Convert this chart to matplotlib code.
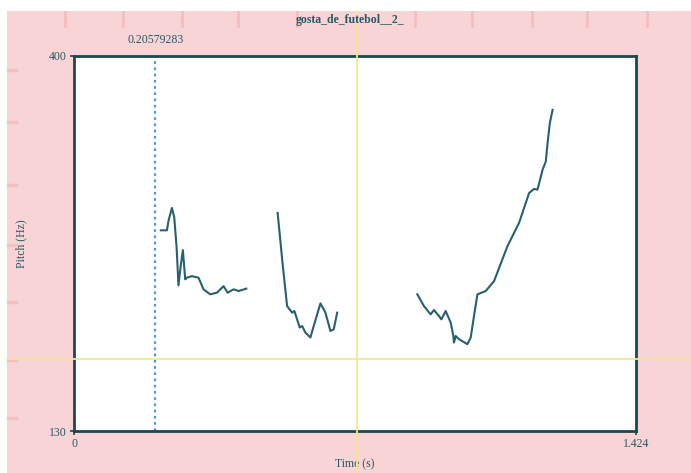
import matplotlib
matplotlib.use("Agg")
import matplotlib.pyplot as plt
import matplotlib.transforms as mtransforms
from matplotlib.patches import Rectangle
from matplotlib.lines import Line2D

# Pitch contour (three voiced stretches), time in s, pitch in Hz
seg1_t = [0.2201, 0.2353, 0.2400, 0.2480, 0.2540, 0.2600, 0.2647, 0.2700, 0.2759, 0.2818,
          0.2861, 0.2988, 0.3155, 0.3282, 0.3452, 0.3622, 0.3790, 0.3891, 0.4044, 0.4171, 0.4366]
seg1_f = [274.5, 274.5, 282.0, 290.6, 284.0, 262.0, 234.8, 248.0, 260.2, 239.2,
          240.4, 241.5, 240.4, 232.0, 228.4, 229.6, 234.3, 229.6, 232.0, 230.8, 232.5]

seg2_t = [0.5160, 0.5280, 0.5399, 0.5526, 0.5584, 0.5653, 0.5719, 0.5780, 0.5863, 0.5990,
          0.6074, 0.6244, 0.6371, 0.6498, 0.6582, 0.6668]
seg2_f = [287.0, 252.0, 220.0, 215.2, 216.4, 210.4, 204.5, 205.6, 200.9, 197.3,
          205.6, 221.9, 215.2, 202.0, 203.2, 215.2]

seg3_t = [0.8699, 0.8866, 0.9036, 0.9120, 0.9247, 0.9308, 0.9417, 0.9544, 0.9613, 0.9628,
          0.9671, 0.9755, 0.9968, 1.0052, 1.0135, 1.0222, 1.0433, 1.0643, 1.0983, 1.1278,
          1.1532, 1.1658, 1.1745, 1.1872, 1.1955, 1.1999, 1.2057, 1.2126]
seg3_f = [228.4, 220.0, 214.0, 217.1, 212.8, 210.4, 216.4, 208.1, 198.4, 193.7,
          198.4, 196.1, 192.5, 197.3, 212.8, 228.4, 230.8, 237.9, 263.1, 279.9,
          301.4, 304.3, 303.8, 318.1, 324.1, 337.3, 351.7, 361.2]

t_min, t_max = 0.0, 1.424
f_min, f_max = 130, 400
cursor_t = 0.20579283          # selection cursor (dotted)
cross_t, cross_f = 0.718, 181.7  # crosshair position
title = "gosta_de_futebol__2_"

W, H = 691, 473
fig = plt.figure(figsize=(W / 100, H / 100), dpi=100)
fig.patch.set_facecolor("white")

pink = "#f9d4d6"
ink = "#245866"
frame = "#1c4650"
serif = ["Liberation Serif", "DejaVu Serif"]

# pink canvas behind the plot
fig.patches.append(Rectangle((7 / W, 0), 1 - 7 / W, 1 - 11 / H, transform=fig.transFigure,
                             facecolor=pink, edgecolor="none", zorder=-10))

# faint red marks along the top and left margins
for x in [65, 123, 182, 238, 297, 415, 472, 532, 587, 647]:
    fig.add_artist(Line2D([x / W, x / W], [1 - 12 / H, 1 - 26 / H], transform=fig.transFigure,
                          color="#ee8a8f", lw=2.0, alpha=0.3, zorder=-5))
for y in [70, 122, 185, 245, 302, 360, 418]:
    fig.add_artist(Line2D([8 / W, 16 / W], [1 - y / H, 1 - y / H], transform=fig.transFigure,
                          color="#ee8a8f", lw=2.5, alpha=0.28, zorder=-5))

ax = fig.add_axes([74 / W, 1 - 431 / H, 562 / W, 375 / H])
ax.set_facecolor("white")
ax.set_xlim(t_min, t_max)
ax.set_ylim(f_min, f_max)

for s in ax.spines.values():
    s.set_color(frame)
    s.set_linewidth(2.0)
    s.set_zorder(5)

ax.set_xticks([t_min, t_max])
ax.set_xticklabels(["0", "1.424"])
ax.set_yticks([f_min, f_max])
ax.set_yticklabels(["130", "400"])
ax.tick_params(direction="out", length=3, width=1.2, color=frame, labelcolor=ink,
               labelsize=8.5, pad=2)
for lab in ax.get_xticklabels() + ax.get_yticklabels():
    lab.set_family(serif)

ax.set_xlabel("Time (s)", family=serif, fontsize=8.5, color=ink, labelpad=6)
ax.set_ylabel("Pitch (Hz)", family=serif, fontsize=8.5, color=ink, labelpad=16)

# crosshair lines run across the whole canvas
yel = "#f3e98a"
vl = Line2D([cross_t, cross_t], [0, 1 - 12 / H], color=yel, lw=1.3, zorder=2,
            transform=mtransforms.blended_transform_factory(ax.transData, fig.transFigure))
fig.add_artist(vl)
hl = Line2D([7 / W, 1], [cross_f, cross_f], color=yel, lw=1.3, zorder=2,
            transform=mtransforms.blended_transform_factory(fig.transFigure, ax.transData))
fig.add_artist(hl)

# dotted selection cursor
ax.axvline(cursor_t, color="#4f9bc4", lw=1.6, ls=(0, (1.2, 1.6)), zorder=3)
ax.text(cursor_t, f_max + 7, f"{cursor_t:.8f}", family=serif, fontsize=8.5, color=ink,
        ha="center", va="bottom", clip_on=False)

for t, f in [(seg1_t, seg1_f), (seg2_t, seg2_f), (seg3_t, seg3_f)]:
    ax.plot(t, f, color="#28606f", lw=1.5, zorder=4)

fig.text(0.507, 1 - 20 / H, title, family=serif, fontsize=8.5, fontweight="bold",
         color=ink, ha="center", va="center")

fig.savefig("out.png", dpi=100)
